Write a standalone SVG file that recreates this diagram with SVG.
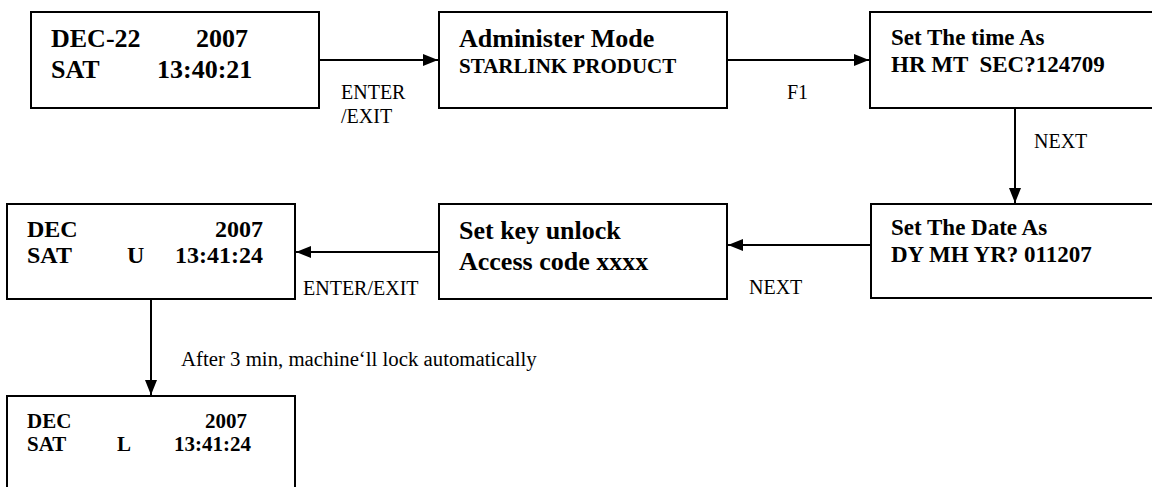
<svg xmlns="http://www.w3.org/2000/svg" width="1152" height="487" viewBox="0 0 1152 487">
<style>
.box{fill:#fff;stroke:#000;stroke-width:2}
.b{font-family:"Liberation Serif","Times New Roman",serif;font-weight:bold;fill:#000}
.r{font-family:"Liberation Serif","Times New Roman",serif;font-size:20px;fill:#000}
.c{stroke:#000;stroke-width:2;fill:none;marker-end:url(#ah)}
</style>
<defs>
<marker id="ah" markerUnits="userSpaceOnUse" markerWidth="15" markerHeight="12" refX="15" refY="6" orient="auto">
<path d="M0,0 L15,6 L0,12 z" fill="#000"/>
</marker>
</defs>
<rect width="1152" height="487" fill="#fff"/>
<g id="connectors">
<line class="c" x1="319" y1="60" x2="438" y2="60"/>
<line class="c" x1="727" y1="60" x2="869" y2="60"/>
<line class="c" x1="1015" y1="108" x2="1015" y2="203"/>
<line class="c" x1="871" y1="245" x2="728" y2="245"/>
<line class="c" x1="439" y1="252" x2="296" y2="252"/>
<line class="c" x1="151" y1="299" x2="151" y2="395"/>
<text class="r" x="341" y="99">ENTER</text>
<text class="r" x="341" y="123">/EXIT</text>
<text class="r" x="787" y="99">F1</text>
<text class="r" x="1034" y="148">NEXT</text>
<text class="r" x="749" y="294">NEXT</text>
<text class="r" x="303" y="295">ENTER/EXIT</text>
<text class="r" x="181" y="366" style="font-size:20.8px">After 3 min, machine‘ll lock automatically</text>
</g>
<g id="n1">
<rect class="box" x="31" y="12" width="288" height="96"/>
<text class="b" font-size="26" x="51" y="47">DEC-22</text>
<text class="b" font-size="26" x="196" y="47">2007</text>
<text class="b" font-size="26" x="51" y="78">SAT</text>
<text class="b" font-size="26" x="157" y="78">13:40:21</text>
</g>
<g id="n2">
<rect class="box" x="439" y="12" width="288" height="96"/>
<text class="b" font-size="26" x="459" y="47">Administer Mode</text>
<text class="b" font-size="21" x="459" y="73">STARLINK PRODUCT</text>
</g>
<g id="n3">
<rect class="box" x="870" y="12" width="300" height="96"/>
<text class="b" font-size="23" x="891" y="45">Set The time As</text>
<text class="b" font-size="23" x="891" y="72" xml:space="preserve">HR MT  SEC?124709</text>
</g>
<g id="n4">
<rect class="box" x="871" y="204" width="300" height="94"/>
<text class="b" font-size="23" x="891" y="235">Set The Date As</text>
<text class="b" font-size="23" x="891" y="262">DY MH YR? 011207</text>
</g>
<g id="n5">
<rect class="box" x="439" y="204" width="288" height="95"/>
<text class="b" font-size="26" x="459" y="239">Set key unlock</text>
<text class="b" font-size="26" x="459" y="270">Access code xxxx</text>
</g>
<g id="n6">
<rect class="box" x="7" y="204" width="288" height="95"/>
<text class="b" font-size="24" x="27" y="237">DEC</text>
<text class="b" font-size="24" x="263" y="237" text-anchor="end">2007</text>
<text class="b" font-size="24" x="27" y="263">SAT</text>
<text class="b" font-size="24" x="127" y="263">U</text>
<text class="b" font-size="24" x="263" y="263" text-anchor="end">13:41:24</text>
</g>
<g id="n7">
<rect class="box" x="7" y="396" width="288" height="110"/>
<text class="b" font-size="21" x="27" y="428">DEC</text>
<text class="b" font-size="21" x="247" y="428" text-anchor="end">2007</text>
<text class="b" font-size="21" x="27" y="451">SAT</text>
<text class="b" font-size="21" x="117" y="451">L</text>
<text class="b" font-size="21" x="251" y="451" text-anchor="end">13:41:24</text>
</g>
</svg>
